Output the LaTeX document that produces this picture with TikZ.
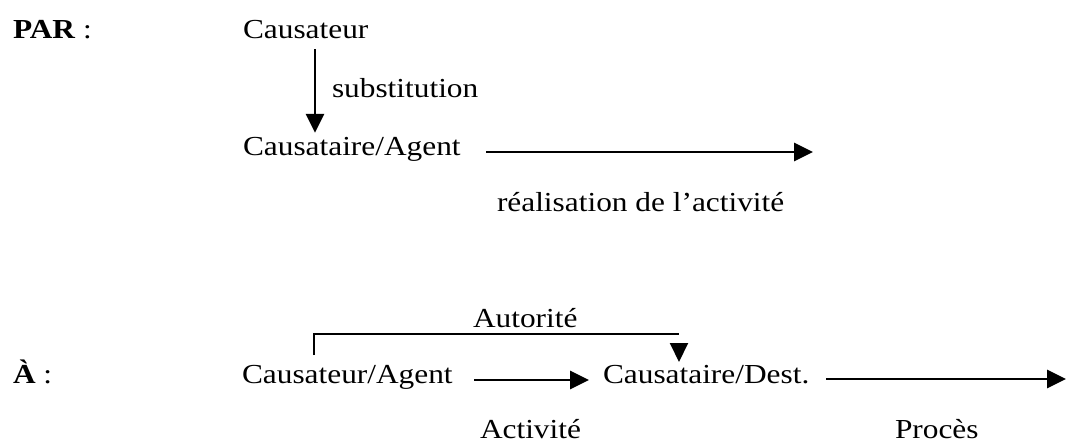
\documentclass[tikz,border=0pt]{standalone}
\usepackage{fontspec}
\setmainfont[FakeStretch=1.14]{Liberation Serif}
\usetikzlibrary{arrows.meta}
\begin{document}
\begin{tikzpicture}[x=1pt,y=-1pt,
  txt/.style={anchor=base west,inner sep=0pt,outer sep=0pt,font=\fontsize{27.5}{31}\selectfont},
  arr/.style={line width=2.9pt,-{Triangle[length=19pt,width=18pt]}},
  brk/.style={line width=2.4pt}]
\useasboundingbox (0,0) rectangle (1066,444);
% top part
\node[txt] (par) at (13,39) {\textbf{PAR} :};
\node[txt] (c1) at (243,39) {Causateur};
\node[txt] (c2) at (243,155) {Causataire/Agent};
\node[txt] (subst) at (332,97) {substitution};
\node[txt] (real) at (497,211) {réalisation de l’activité};
\coordinate (sx) at (315,0);
\coordinate (r1s) at (486,152);
\coordinate (r1e) at (813,152);
\draw[arr] (c1.south -| sx) ++(0,10) -- ([yshift=4pt]c2.north -| sx);
\draw[arr] (r1s) -- (r1e);
% bottom part
\node[txt] (a) at (13,383) {\textbf{À} :};
\node[txt] (ca) at (242,383) {Causateur/Agent};
\node[txt] (cd) at (603,383) {Causataire/Dest.};
\node[txt] (act) at (480,438) {Activité};
\node[txt] (proc) at (895,438) {Procès};
\node[txt] (aut) at (473,327) {Autorité};
\coordinate (b0) at (314,355);
\coordinate (b1) at (314,334);
\coordinate (b2) at (679,334);
\coordinate (t1) at (679,343);
\coordinate (t2) at (679,362);
\draw[brk] (b0) -- (b1) -- (b2);
\draw[line width=2pt,-{Triangle[length=19pt,width=18pt]}] (t1) -- (t2);
\coordinate (p1s) at (474,380);
\coordinate (p1e) at (589,380);
\coordinate (p2s) at (826,379);
\coordinate (p2e) at (1066,379);
\draw[arr] (p1s) -- (p1e);
\draw[arr] (p2s) -- (p2e);
\end{tikzpicture}
\end{document}
